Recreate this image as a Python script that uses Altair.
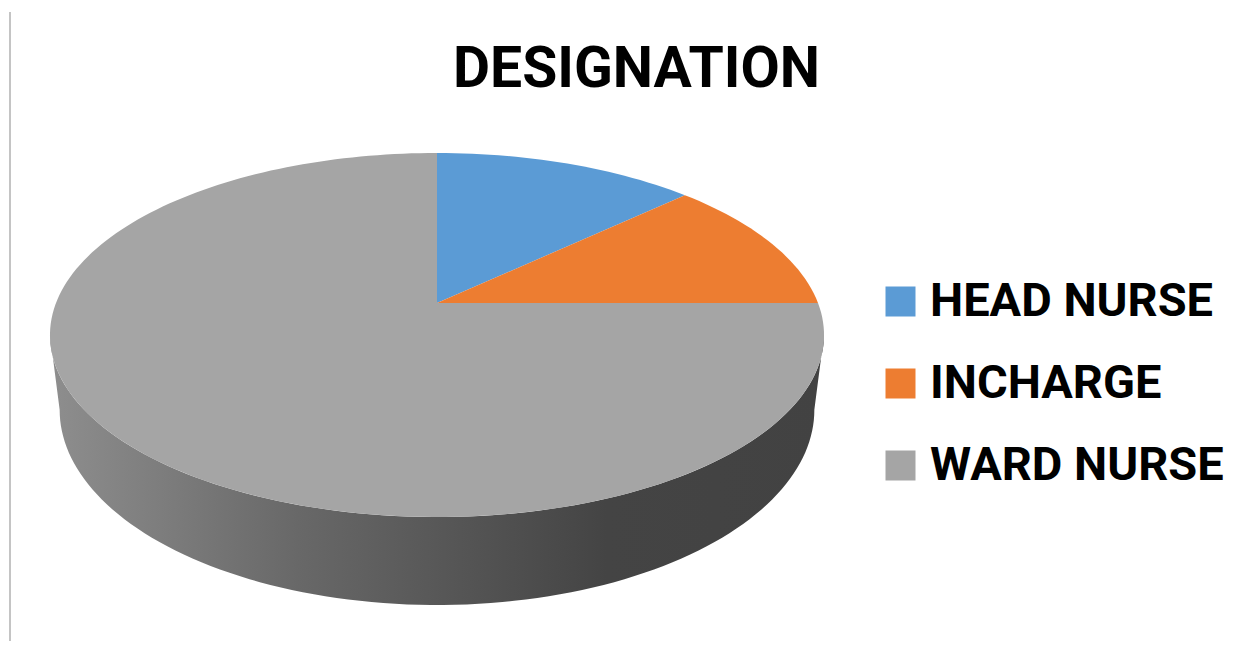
import math
import numpy as np
import pandas as pd
import altair as alt

# ---- data ----
categories = ["HEAD NURSE", "INCHARGE", "WARD NURSE"]
values = [13, 12, 75]
colors = ["#5B9BD5", "#ED7D31", "#A5A5A5"]

# ---- layout of the tilted (3D-looking) pie, page pixel units ----
CX, CY = 437.0, 303.0      # apex of the pie
SX, SY = 381.0, 176.4      # horizontal / vertical radii factors
K = 0.1758                 # perspective factor
DEPTH = 72.5               # thickness of the pie
TAPER = 0.975              # bottom rim slightly narrower


def rim(deg):
    t = math.radians(deg)
    d = 1 + K * math.cos(t)
    return CX + SX * math.sin(t) / d, CY - SY * math.cos(t) / d


def low(deg):
    t = math.radians(deg)
    d = 1 + K * math.cos(t)
    x, y = rim(deg)
    return CX + (x - CX) * TAPER, y + DEPTH / d


total = float(sum(values))
starts, ends = [], []
acc = 0.0
for v in values:
    starts.append(acc / total * 360.0)
    acc += v
    ends.append(acc / total * 360.0)

# top face sectors
top_rows = []
for cat, a, b in zip(categories, starts, ends):
    n = max(3, int((b - a) / 1.5))
    pts = [(CX, CY)] + [rim(t) for t in np.linspace(a, b, n)] + [(CX, CY)]
    for i, (x, y) in enumerate(pts):
        top_rows.append({"cat": cat, "idx": i, "x": x, "y": y})
top_df = pd.DataFrame(top_rows)

# visible side wall (front half of the cylinder)
th_r = math.degrees(math.acos(-K))
th_l = 360.0 - th_r
side_rows = []
for cat, a, b in zip(categories, starts, ends):
    lo, hi = max(a, th_r), min(b, th_l)
    if lo >= hi:
        continue
    ang = np.linspace(lo, hi, max(3, int((hi - lo) / 1.5)))
    pts = [rim(t) for t in ang] + [low(t) for t in ang[::-1]]
    pts.append(pts[0])
    for i, (x, y) in enumerate(pts):
        side_rows.append({"cat": cat, "idx": i, "x": x, "y": y})
side_df = pd.DataFrame(side_rows)

W, H = 1235, 633
xs = alt.Scale(domain=[8, 8 + W], nice=False, zero=False)
ys = alt.Scale(domain=[8, 8 + H], nice=False, zero=False, reverse=True)

side_grad = alt.LinearGradient(
    gradient="linear", x1=0, y1=0, x2=1, y2=0,
    stops=[
        alt.GradientStop(offset=0.0, color="#8e8e8e"),
        alt.GradientStop(offset=0.32, color="#686868"),
        alt.GradientStop(offset=0.72, color="#444444"),
        alt.GradientStop(offset=1.0, color="#424242"),
    ],
)

side = alt.Chart(side_df).mark_line(filled=True, color=side_grad, strokeWidth=0).encode(
    x=alt.X("x:Q", scale=xs, axis=None),
    y=alt.Y("y:Q", scale=ys, axis=None),
    detail="cat:N",
    order="idx:Q",
)

top = alt.Chart(top_df).mark_line(filled=True, strokeWidth=0).encode(
    x=alt.X("x:Q", scale=xs, axis=None),
    y=alt.Y("y:Q", scale=ys, axis=None),
    color=alt.Color(
        "cat:N",
        scale=alt.Scale(domain=categories, range=colors),
        sort=categories,
        legend=alt.Legend(
            title=None, orient="none", legendX=869, legendY=270,
            symbolType="square", symbolSize=900, symbolStrokeWidth=0,
            symbolOpacity=1,
            labelFont="Roboto", labelFontSize=47, labelFontWeight="bold",
            labelColor="#000000", labelLimit=500, labelOffset=6,
            rowPadding=34, padding=0,
        ),
    ),
    order="idx:Q",
)

border = alt.Chart(pd.DataFrame({"k": [0]})).mark_rule(color="#b0b0b0", strokeWidth=1.5).encode(
    x=alt.value(2), y=alt.value(4), y2=alt.value(H)
)

chart = alt.layer(side, top, border).properties(
    width=W, height=H,
    autosize=alt.AutoSizeParams(type="none"),
    padding={"left": 0, "top": 0, "right": 0, "bottom": 0},
    title=alt.TitleParams(
        "DESIGNATION", font="Roboto", fontSize=57, fontWeight="bold",
        color="#000000", anchor="middle", orient="top", baseline="alphabetic",
        offset=-80, dy=56, dx=11,
    ),
).configure_view(strokeWidth=0)

chart.save("out.html", embed_options={"renderer": "svg", "actions": False})
